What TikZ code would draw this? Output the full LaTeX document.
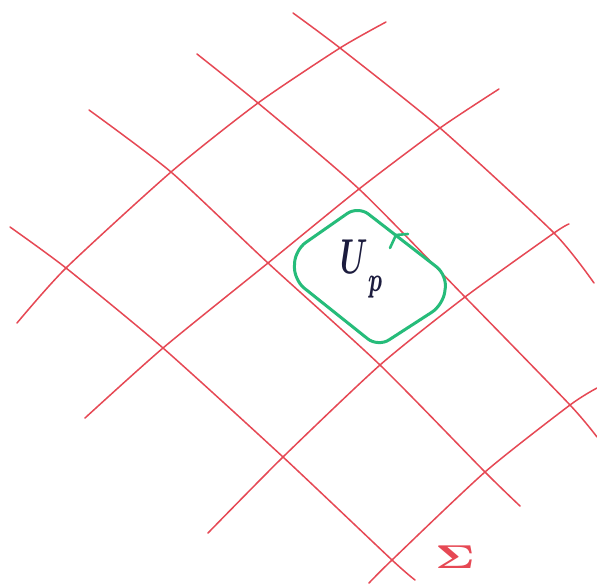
\documentclass[tikz,border=0pt]{standalone}
\usepackage{amsmath}
\usetikzlibrary{calc}
\definecolor{gridred}{RGB}{230,72,84}
\definecolor{loopgreen}{RGB}{38,188,122}
\definecolor{inkblue}{RGB}{28,28,62}
\begin{document}
\begin{tikzpicture}[x=1pt,y=-1pt,
  gridline/.style={gridred, line width=1.5pt, line cap=round, line join=round},
  looppath/.style={loopgreen, line width=3pt, line cap=round, line join=round},
  handlabel/.style={inner sep=0pt, outer sep=0pt}]
\useasboundingbox[fill=white] (0,0) rectangle (597,586);

% falling lines (upper left to lower right)
\draw[gridline] plot[smooth, tension=0.4] coordinates {(293,13) (340,48) (440,128) (554,233) (594,283)};
\draw[gridline] plot[smooth, tension=0.4] coordinates {(197,54) (258,103) (359,189) (465,297) (570,405) (597,437)};
\draw[gridline] plot[smooth, tension=0.4] coordinates {(89,110) (171,172) (268,263) (380,365) (485,472) (520,506)};
\draw[gridline] plot[smooth, tension=0.4] coordinates {(10,227) (66,268) (163,348) (283,457) (392,560) (415,580)};

% rising lines (lower left to upper right)
\draw[gridline] plot[smooth, tension=0.4] coordinates {(17,323) (66,268) (171,172) (258,103) (340,48) (386,22)};
\draw[gridline] plot[smooth, tension=0.4] coordinates {(85,418) (163,348) (268,263) (359,189) (440,128) (499,89)};
\draw[gridline] plot[smooth, tension=0.4] coordinates {(208,533) (283,457) (380,365) (465,297) (554,233) (569,224)};
\draw[gridline] plot[smooth, tension=0.4] coordinates {(369,583) (392,560) (485,472) (570,405) (597,388)};

% green loop
\coordinate (lt) at (295,250);
\coordinate (tp) at (358,206);
\coordinate (rt) at (447,275);
\coordinate (rb) at (443,305);
\coordinate (bt) at (378,347);
\coordinate (lb) at (294,280);
\draw[looppath, rounded corners=13pt] ($(lt)!0.5!(tp)$) -- (tp) -- (rt) -- (rb) -- (bt) -- (lb) -- (lt) -- cycle;

% arrow barb on the loop
\coordinate (tip) at (396,235);
\coordinate (barbA) at (390,248);
\coordinate (barbB) at (408,234);
\draw[looppath, line width=2.6pt] (barbA) -- (tip) -- (barbB);

% labels
\node[handlabel, text=inkblue, xscale=3.0, yscale=4.9, anchor=base] (up) at (362,273)
  {$\boldsymbol{U}_{\raisebox{-2.2pt}{$\scriptstyle\boldsymbol{p}$}}$};
\node[handlabel, text=gridred, xscale=4.8, yscale=3.3, anchor=center] (sigma) at (455,557)
  {$\mathbf{\Sigma}$};
\end{tikzpicture}
\end{document}
